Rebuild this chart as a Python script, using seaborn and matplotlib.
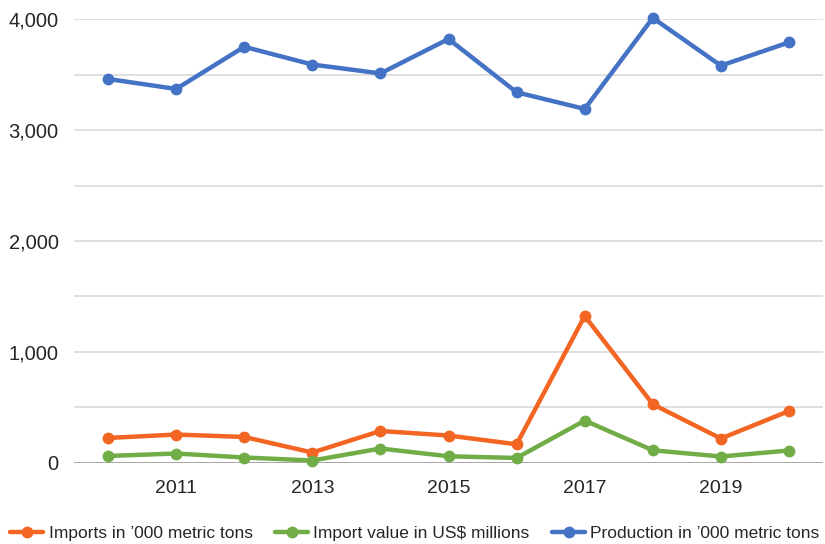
import matplotlib
matplotlib.use("Agg")
import matplotlib.pyplot as plt
import seaborn as sns
import pandas as pd

# data
years = [2010, 2011, 2012, 2013, 2014, 2015, 2016, 2017, 2018, 2019, 2020]
imports_tons = [225, 256, 234, 94, 288, 247, 168, 1324, 529, 220, 468]
import_value = [63, 85, 49, 22, 130, 60, 45, 382, 114, 58, 112]
production = [3460, 3370, 3750, 3590, 3510, 3820, 3340, 3190, 4010, 3580, 3790]

series_labels = [
    "Imports in \u2019000 metric tons",
    "Import value in US$ millions",
    "Production in \u2019000 metric tons",
]
series_colors = ["#F26522", "#70AD47", "#4472C4"]
tick_years = [2011, 2013, 2015, 2017, 2019]

sns.set_style("white")
plt.rcParams["font.family"] = ["Liberation Sans", "DejaVu Sans"]

fig = plt.figure(figsize=(8.25, 5.44), dpi=100)
ax = fig.add_axes([0.0897, 0.149, 0.9079, 0.816])

# gridlines
for v in range(500, 4001, 500):
    ax.axhline(v, color="#D9D9D9", lw=1.2, zorder=0)
ax.axhline(0, color="#A6A6A6", lw=1.4, zorder=0)

for vals, lab, col in zip([imports_tons, import_value, production], series_labels, series_colors):
    df = pd.DataFrame({"year": years, "value": vals})
    sns.lineplot(data=df, x="year", y="value", ax=ax, color=col, lw=3.2,
                 marker="o", markersize=8.5, markeredgewidth=0, label=lab,
                 clip_on=False)

ax.set_xlim(2009.5, 2020.5)
ax.set_ylim(0, 4000)
ax.set_xticks(tick_years)
ax.set_xticklabels([str(y) for y in tick_years])
ax.set_yticks([0, 1000, 2000, 3000, 4000])
ax.set_yticklabels(["0", "1,000", "2,000", "3,000", "4,000"])
ax.tick_params(axis="y", length=0, labelsize=14.5, colors="#262626", pad=11)
ax.tick_params(axis="x", length=0, labelsize=14, colors="#262626", pad=12)
ax.set_xlabel("")
ax.set_ylabel("")
for s in ax.spines.values():
    s.set_visible(False)

handles, labels = ax.get_legend_handles_labels()
ax.get_legend().remove()
fig.legend(handles, labels, loc="lower center", bbox_to_anchor=(0.503, -0.024),
           ncol=3, frameon=False, fontsize=12.5, handlelength=1.9,
           handletextpad=0.3, columnspacing=1.3, labelcolor="#262626")

fig.savefig("out.png", dpi=100)
plt.close(fig)
